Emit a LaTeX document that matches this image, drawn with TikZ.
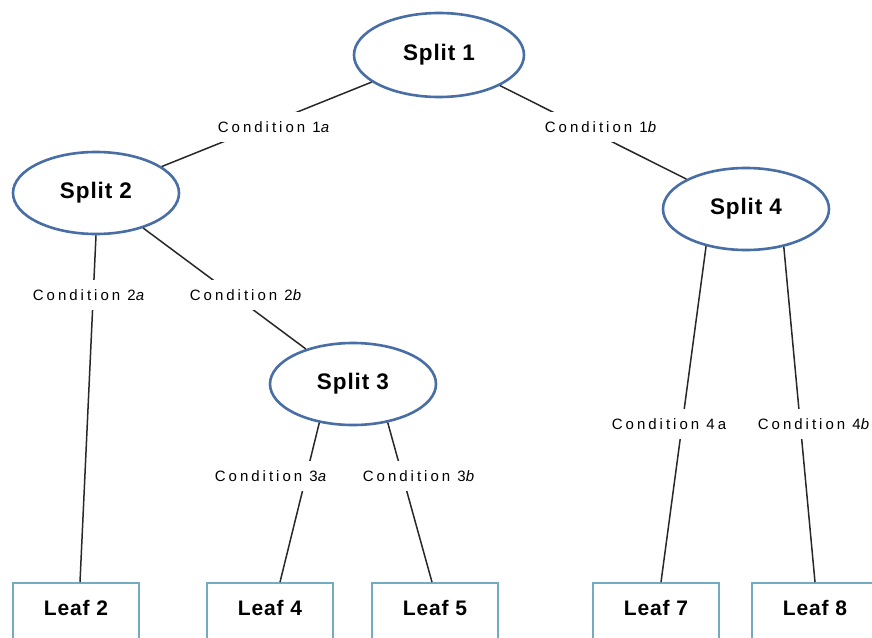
\documentclass[tikz,border=0pt]{standalone}
\usepackage{fontspec}
\setmainfont{Liberation Sans}
\newfontfamily\labfont[LetterSpace=20]{Liberation Sans}
\newfontfamily\headfont[LetterSpace=4]{Liberation Sans}
\usetikzlibrary{shapes.geometric,calc}
\definecolor{splitblue}{RGB}{72,110,165}
\definecolor{leafteal}{RGB}{115,172,192}
\definecolor{connline}{RGB}{40,40,40}
\begin{document}
\begin{tikzpicture}[x=1pt,y=-1pt,
  splitnode/.style={ellipse,draw=splitblue,line width=2.6pt,fill=white,inner sep=0pt,
    minimum width=166pt,minimum height=82pt,font=\headfont\fontsize{22.5}{24}\selectfont\bfseries},
  leafnode/.style={rectangle,draw=leafteal,line width=1.8pt,fill=white,inner sep=0pt,
    minimum width=126pt,minimum height=60pt,text height=15pt,text depth=10.5pt,
    font=\headfont\fontsize{21}{24}\selectfont\bfseries},
  conn/.style={draw=connline,line width=1.5pt},
  condlabel/.style={fill=white,inner xsep=2pt,inner ysep=9pt,font=\labfont\fontsize{15}{17}\selectfont}]
\useasboundingbox (0,0) rectangle (872,637);
\fill[white] (0,0) rectangle (872,637);
\node[splitnode,minimum width=170pt,minimum height=84pt] (s1) at (439,55) {Split 1};
\node[splitnode] (s2) at (96,193) {Split 2};
\node[splitnode] (s3) at (353,384) {Split 3};
\node[splitnode] (s4) at (746,209) {Split 4};
\node[leafnode] (l2) at (76,613) {Leaf 2};
\node[leafnode] (l4) at (270,613) {Leaf 4};
\node[leafnode] (l5) at (435,613) {Leaf 5};
\node[leafnode] (l7) at (656,613) {Leaf 7};
\node[leafnode] (l8) at (815,613) {Leaf 8};
\draw[conn] (s1) -- (s2);
\draw[conn] (s1) -- (s4);
\draw[conn] (s2.270) -- ($(l2.north)+(4,0)$);
\draw[conn] (s2) -- (s3);
\draw[conn] (s3.229) -- ($(l4.north)+(10,0)$);
\draw[conn] (s3.312) -- ($(l5.north)+(-3,0)$);
\draw[conn] (s4.223) -- ($(l7.north)+(5,0)$);
\draw[conn] (s4.315) -- (l8.north);
\node[condlabel] (c1a) at (275,127) {Condition 1\textit{a}};
\node[condlabel] (c1b) at (602,127) {Condition 1\textit{b}};
\node[condlabel] (c2a) at (90,295) {Condition 2\textit{a}};
\node[condlabel] (c2b) at (247,295) {Condition 2\textit{b}};
\node[condlabel] (c3a) at (272,476) {Condition 3\textit{a}};
\node[condlabel] (c3b) at (420,476) {Condition 3\textit{b}};
\node[condlabel] (c4a) at (669,424) {Condition 4a};
\node[condlabel] (c4b) at (815,424) {Condition 4\textit{b}};
\end{tikzpicture}
\end{document}
